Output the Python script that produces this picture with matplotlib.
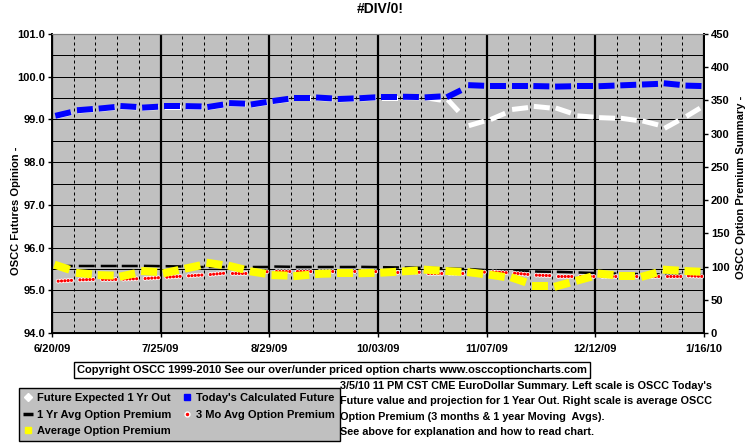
import numpy as np
import pandas as pd
import matplotlib
matplotlib.use("Agg")
import matplotlib.pyplot as plt
import matplotlib.patheffects as pe
from matplotlib.lines import Line2D
from matplotlib.ticker import MultipleLocator

plt.rcParams['font.family'] = ['Liberation Sans', 'DejaVu Sans']
plt.rcParams['font.weight'] = 'bold'
plt.rcParams['lines.scale_dashes'] = False

# weekly readings (Mondays) plus the last chart day
weeks = list(pd.date_range('2009-06-22', periods=30, freq='7D')) + [pd.Timestamp('2010-01-16')]

today_future = [99.10, 99.22, 99.26, 99.31, 99.28, 99.31, 99.31, 99.30, 99.38, 99.36,
                99.44, 99.51, 99.51, 99.48, 99.50, 99.53, 99.53, 99.52, 99.55, 99.80,
                99.78, 99.78, 99.78, 99.77, 99.78, 99.78, 99.80, 99.82, 99.84, 99.79, 99.78]
future_1yr = [99.08, 99.20, 99.24, 99.29, 99.26, 99.29, 99.29, 99.28, 99.36, 99.34,
              99.42, 99.49, 99.49, 99.46, 99.48, 99.51, 99.51, 99.50, 99.42, 98.87,
              99.02, 99.24, 99.30, 99.25, 99.08, 99.04, 99.02, 98.95, 98.82, 99.10, 99.32]
avg_premium = [101, 90, 87, 86, 93, 91, 98, 105, 100, 92,
               87, 86, 89, 90, 90, 91, 93, 95, 93, 91,
               87, 82, 71, 71, 80, 89, 86, 86, 95, 93, 92]
mo3_premium = [78, 80, 81, 81, 82, 84, 86, 88, 91, 91,
               93, 93, 93, 93, 93, 92, 92, 91, 91, 91,
               92, 90, 87, 86, 86, 86, 86, 86, 86, 86, 85]
yr1_premium = [101, 101, 101, 101, 101, 100.5, 100, 100, 100, 100,
               100, 99.5, 99.5, 99.5, 99.5, 99, 98.5, 98, 97, 96,
               94, 93, 92.5, 92, 91, 90, 89, 88.5, 88, 87.5, 87]

tick_dates = pd.date_range('2009-06-20', '2010-01-16', freq='35D')
tick_labels = ['6/20/09', '7/25/09', '8/29/09', '10/03/09', '11/07/09', '12/12/09', '1/16/10']

PX = 0.72  # points per pixel at dpi 100


def weekly(axis, x, y, color, lw, z):
    # one dash per trading week
    on = (16 - lw) * PX
    for i in range(len(x) - 1):
        axis.plot(x[i:i + 2], y[i:i + 2], color=color, lw=lw * PX, dashes=(on, 60),
                  dash_capstyle='projecting', solid_capstyle='projecting', zorder=z)


def dotted(axis, x, y, color, z):
    pattern = [0.01, 3.3 * PX] * 4 + [0.01, 60]
    for i in range(len(x) - 1):
        axis.plot(x[i:i + 2], y[i:i + 2], color=color, lw=3.2 * PX, dashes=pattern,
                  dash_capstyle='round', zorder=z,
                  path_effects=[pe.Stroke(linewidth=4.8 * PX, foreground='white'), pe.Normal()])


fig = plt.figure(figsize=(7.55, 4.46), dpi=100)
ax = fig.add_axes([52 / 755, 1 - 333 / 446, 652 / 755, 299 / 446])
ax.set_facecolor('#c0c0c0')

ax.set_xlim(pd.Timestamp('2009-06-20'), pd.Timestamp('2010-01-16'))
ax.set_ylim(94, 101)
ax.yaxis.set_major_locator(MultipleLocator(1))
ax.yaxis.set_minor_locator(MultipleLocator(0.5))
ax.set_yticklabels([f'{v:.1f}' for v in ax.get_yticks()])
ax.set_xticks(tick_dates)
ax.set_xticklabels(tick_labels)
ax.set_xticks(pd.date_range('2009-06-20', '2010-01-16', freq='7D'), minor=True)

ax.grid(True, which='both', axis='y', color='black', lw=1 * PX)
ax.grid(True, which='major', axis='x', color='black', lw=2.2 * PX)
ax.grid(True, which='minor', axis='x', color='black', lw=1 * PX, dashes=(3 * PX, 3 * PX))
ax.set_axisbelow(True)

ax.tick_params(axis='y', which='major', direction='out', length=3, width=1, pad=2, labelsize=8)
ax.tick_params(axis='y', which='minor', length=0)
ax.tick_params(axis='x', which='major', direction='out', length=3, width=1, pad=5, labelsize=8)
ax.tick_params(axis='x', which='minor', length=0)
for s in ['left', 'bottom', 'right']:
    ax.spines[s].set_color('black')
    ax.spines[s].set_linewidth(1.4)
ax.spines['top'].set_color('#808080')

ax2 = ax.twinx()
ax2.set_ylim(0, 450)
ax2.yaxis.set_major_locator(MultipleLocator(50))
ax2.tick_params(axis='y', direction='out', length=3, width=1, pad=2, labelsize=8)
ax2.spines['right'].set_linewidth(1.4)
ax2.spines['top'].set_color('#808080')

weekly(ax, weeks, future_1yr, 'white', 5, 3)
weekly(ax, weeks, today_future, '#0000ff', 6, 4)
weekly(ax2, weeks, yr1_premium, 'black', 2.5, 2)
dotted(ax2, weeks, mo3_premium, 'red', 3)
weekly(ax2, weeks, avg_premium, '#ffff00', 8, 4)

fig.text(380 / 755, 1 - 9 / 446, '#DIV/0!', ha='center', va='center', fontsize=10)
fig.text(16 / 755, 1 - 211 / 446, 'OSCC Futures Opinion -', rotation=90,
         ha='center', va='center', fontsize=8)
fig.text(741 / 755, 1 - 187 / 446, 'OSCC Option Premium Summary -', rotation=90,
         ha='center', va='center', fontsize=8)

fig.text(332 / 755, 1 - 370 / 446,
         'Copyright OSCC 1999-2010 See our over/under priced option charts www.osccoptioncharts.com',
         ha='center', va='center', fontsize=8,
         bbox=dict(boxstyle='square,pad=0.3', facecolor='white', edgecolor='black', lw=1))

note = ("3/5/10 11 PM CST CME EuroDollar Summary. Left scale is OSCC Today's\n"
        "Future value and projection for 1 Year Out. Right scale is average OSCC\n"
        "Option Premium (3 months & 1 year Moving  Avgs).\n"
        "See above for explanation and how to read chart.")
fig.text(340 / 755, 1 - 381 / 446, note, ha='left', va='top', fontsize=7.8, linespacing=1.68)

handles = [
    Line2D([], [], ls='none', marker='D', ms=4, mfc='white', mec='white'),
    Line2D([], [], ls='none', marker='_', ms=7, mew=2.5, color='black'),
    Line2D([], [], ls='none', marker='s', ms=5, mfc='#ffff00', mec='#ffff00'),
    Line2D([], [], ls='none', marker='s', ms=5, mfc='#0000ff', mec='#0000ff'),
    Line2D([], [], ls='none', marker='o', ms=3.5, mfc='red', mec='white', mew=1),
]
labels = ['Future Expected 1 Yr Out', '1 Yr Avg Option Premium', 'Average Option Premium',
          "Today's Calculated Future", '3 Mo Avg Option Premium']
leg = fig.legend(handles, labels, ncol=2, loc='upper left',
                 bbox_to_anchor=(19 / 755, 1 - 388 / 446), frameon=True, facecolor='#c0c0c0',
                 edgecolor='black', fancybox=False, framealpha=1, handlelength=0.8,
                 handletextpad=0.4, columnspacing=1.0, borderpad=0.45, labelspacing=0.6,
                 borderaxespad=0, prop=dict(weight='bold', size=8))
leg.get_frame().set_linewidth(1)

fig.savefig('out.png', dpi=100)
